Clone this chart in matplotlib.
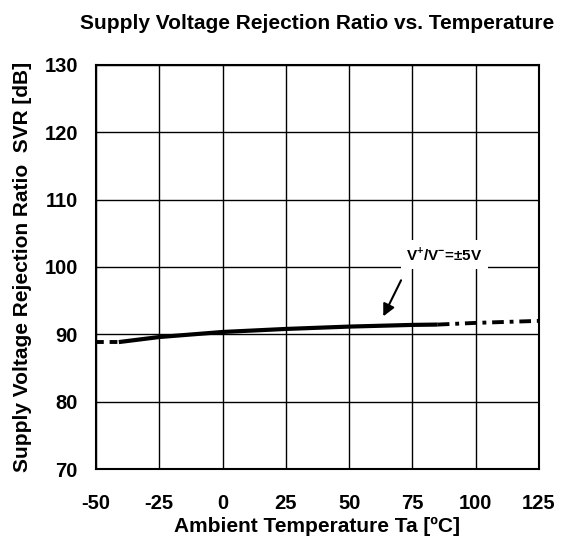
import numpy as np
import matplotlib.pyplot as plt

plt.rcParams['font.family'] = ['Liberation Sans', 'DejaVu Sans']
plt.rcParams['font.weight'] = 'bold'
plt.rcParams['axes.unicode_minus'] = False
plt.rcParams['mathtext.fontset'] = 'custom'
plt.rcParams['mathtext.bf'] = 'Liberation Sans:bold'
plt.rcParams['mathtext.rm'] = 'Liberation Sans:bold'

# data
temp_lo = [-50, -41]
svr_lo = [88.85, 88.85]
temp_mid = [-41, -25, 0, 25, 50, 75, 85]
svr_mid = [88.85, 89.6, 90.35, 90.8, 91.15, 91.4, 91.45]
temp_hi = [85, 100, 125]
svr_hi = [91.45, 91.7, 92.0]

xticks = [-50, -25, 0, 25, 50, 75, 100, 125]
yticks = [70, 80, 90, 100, 110, 120, 130]

fig = plt.figure(figsize=(5.62, 5.4), dpi=100)
ax = fig.add_axes([96 / 562, 1 - 469 / 540, 443 / 562, 404 / 540])

ax.plot(temp_lo, svr_lo, color='black', lw=2.8, ls=(0, (2, 1.5)))
ax.plot(temp_mid, svr_mid, color='black', lw=3, solid_capstyle='butt')
ax.plot(temp_hi, svr_hi, color='black', lw=2.8, ls=(0, (3, 1.5, 1, 1.5)))

ax.set_xlim(-50, 125)
ax.set_ylim(70, 130)
ax.set_xticks(xticks)
ax.set_yticks(yticks)
ax.grid(True, color='black', lw=1)
ax.tick_params(axis='x', length=0, labelsize=14.5, pad=18)
ax.tick_params(axis='y', length=0, labelsize=14.5, pad=13)
for s in ax.spines.values():
    s.set_linewidth(1.5)

ax.text(87.5, 101.9, r'V$^{\mathbf{+}}$/V$^{\mathbf{-}}$=±5V', fontsize=11, fontweight='bold',
        ha='center', va='center', bbox=dict(facecolor='white', edgecolor='none', pad=4))
ax.annotate('', xy=(63, 92.3), xytext=(71, 98.4),
            arrowprops=dict(arrowstyle='-|>', color='black', lw=1.5, mutation_scale=18))

ax.set_title('Supply Voltage Rejection Ratio vs. Temperature', fontsize=15, fontweight='bold', pad=26)
ax.set_xlabel('Ambient Temperature Ta [ºC]', fontsize=15, fontweight='bold', labelpad=2.5)
ax.set_ylabel('Supply Voltage Rejection Ratio  SVR [dB]', fontsize=15, fontweight='bold', labelpad=9)

fig.savefig('out.png', dpi=100)
